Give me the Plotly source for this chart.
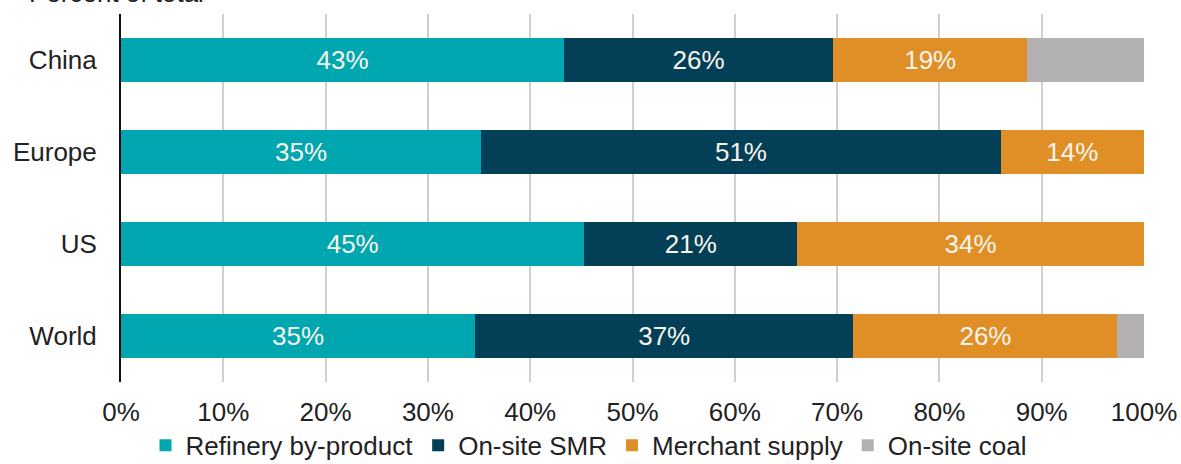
import plotly.graph_objects as go

regions = ['China', 'Europe', 'US', 'World']
series = ['Refinery by-product', 'On-site SMR', 'Merchant supply', 'On-site coal']

refinery = [43.3, 35.2, 45.3, 34.6]
smr = [26.3, 50.8, 20.8, 37.0]
merchant = [19.0, 14.0, 33.9, 25.8]
coal = [11.4, 0.0, 0.0, 2.6]

colors = ['#00A6B0', '#033F56', '#E08F27', '#B3B1B1']
values = [refinery, smr, merchant, coal]

fig = go.Figure()
for name, vals, col in zip(series, values, colors):
    if name == 'On-site coal':
        txt = ['' for v in vals]
    else:
        txt = [f'{round(v)}%' for v in vals]
    fig.add_trace(go.Bar(
        y=regions, x=vals, name=name, orientation='h',
        marker=dict(color=col, line=dict(width=0)),
        text=txt, textposition='inside', insidetextanchor='middle',
        textfont=dict(color='#F7F4EC', size=26),
        hoverinfo='skip'
    ))

# title is cropped off at the top in the original
fig.add_annotation(
    text='Percent of total', xref='paper', yref='paper',
    x=-0.092, y=1.012, xanchor='left', yanchor='bottom',
    showarrow=False, font=dict(size=26, color='#222222')
)

fig.update_layout(
    barmode='stack',
    bargap=0.52,
    width=1181, height=464,
    margin=dict(l=121, r=37, t=14, b=82, autoexpand=False),
    paper_bgcolor='white', plot_bgcolor='white',
    font=dict(family='Liberation Sans, Arial, sans-serif', size=26, color='#222222'),
    showlegend=True,
    legend=dict(orientation='h', x=0.457, xanchor='center', y=-0.172, yanchor='middle',
                font=dict(size=26), itemwidth=30, traceorder='normal'),
    uniformtext=dict(mode=False)
)
fig.update_xaxes(
    range=[0, 100], dtick=10, ticksuffix='%', automargin=False,
    showgrid=True, gridcolor='#D0D0D0', gridwidth=1.5,
    zeroline=False, showline=False,
    ticks='outside', ticklen=7, tickcolor='rgba(0,0,0,0)'
)
fig.update_yaxes(
    autorange='reversed', showgrid=False, automargin=False,
    showline=True, linecolor='#111111', linewidth=2,
    ticks='outside', ticklen=17, tickcolor='rgba(0,0,0,0)'
)

fig.write_html('out.html', config={'displayModeBar': False},
               post_script="document.body.style.margin='0';")
